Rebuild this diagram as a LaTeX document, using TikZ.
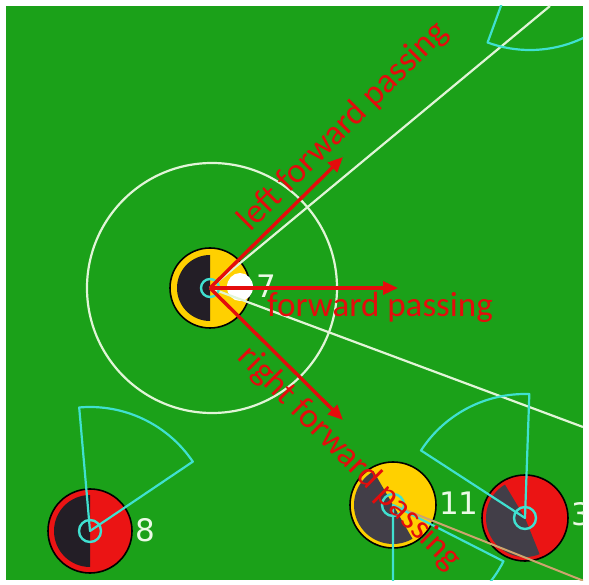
\documentclass[tikz,border=0pt]{standalone}
\usepackage{fontspec}
\newfontfamily\passfont{Carlito}
\newfontfamily\numfont{DejaVu Sans}
\usetikzlibrary{arrows.meta}
\definecolor{pitch}{RGB}{27,161,25}
\definecolor{chalkwhite}{RGB}{225,245,215}
\definecolor{cone}{RGB}{64,224,208}
\definecolor{passred}{RGB}{228,12,12}
\definecolor{yellowp}{RGB}{255,208,0}
\definecolor{redp}{RGB}{235,20,20}
\definecolor{darkp}{RGB}{35,30,38}
\definecolor{greyp}{RGB}{66,62,72}
\definecolor{numwhite}{RGB}{235,250,230}
\definecolor{tanline}{RGB}{205,165,110}
\tikzset{
  ring/.style={draw=black, line width=1.6pt},
  chalk/.style={draw=chalkwhite, line width=2.2pt},
  view/.style={draw=cone, line width=2.2pt, line join=round},
  eye/.style={draw=cone, line width=2.4pt},
  pass/.style={draw=passred, line width=3.4pt, -{Triangle[length=15pt, width=13pt]}},
  lbl/.style={font=\passfont\fontsize{35}{40}\selectfont, text=passred, inner sep=0pt},
  num/.style={font=\numfont\fontsize{31}{36}\selectfont, text=numwhite, inner sep=0pt},
}

\begin{document}
\begin{tikzpicture}[x=1pt, y=1pt]

\useasboundingbox (0,0) rectangle (589,584);
\fill[white] (0,0) rectangle (589,584);

% ── Spielfeld ───────────────────────────────────────────────
\fill[pitch] (6,4) rectangle (583,578);

\coordinate (p7) at (210,296);
\coordinate (p8) at (90,53);
\coordinate (p11) at (393,79);
\coordinate (p3) at (525,66);
\coordinate (ptop) at (530,658);

\begin{scope}
\clip (6,4) rectangle (583,578);

\draw[chalk] (212,296) circle (125);

% ── Spieler ─────────────────────────────────────────────────
\fill[yellowp] (p7) circle (40);
\fill[darkp] (p7) ++(90:33) arc[start angle=90, end angle=270, radius=33] -- cycle;
\draw[ring] (p7) circle (40);
\fill[white] (240,297) ellipse (13 and 14);

\fill[redp] (p8) circle (42);
\fill[darkp] (p8) ++(90:36) arc[start angle=90, end angle=270, radius=36] -- cycle;
\draw[ring] (p8) circle (42);

\fill[yellowp] (p11) circle (43);
\fill[greyp] (p11) -- ++(120:39) arc[start angle=120, end angle=300, radius=39] -- cycle;
\draw[ring] (p11) circle (43);

\fill[redp] (p3) circle (43);
\fill[greyp] (p3) -- ++(121:39) arc[start angle=121, end angle=292, radius=39] -- cycle;
\draw[ring] (p3) circle (43);

% ── Linien ──────────────────────────────────────────────────
\coordinate (c1) at (550,578);
\coordinate (c2) at (583,157);
\coordinate (t1) at (589,1);
\draw[chalk] (p7) -- (c1);
\draw[chalk] (p7) -- (c2);
\draw[draw=tanline, line width=2pt] (p11) -- (t1);

% ── Sichtfelder ─────────────────────────────────────────────
\draw[view] (p8) -- ++(34:124) arc[start angle=34, end angle=95, radius=124] -- cycle;
\draw[view] (p11) -- ++(-90:124) arc[start angle=-90, end angle=-27, radius=124] -- cycle;
\draw[view] (p3) -- ++(88:124) arc[start angle=88, end angle=147, radius=124] -- cycle;
\draw[view] (ptop) -- ++(250:124) arc[start angle=250, end angle=330, radius=124] -- cycle;
\foreach \p/\r in {p7/9, p8/11, p11/11, p3/11}
  \draw[eye] (\p) circle (\r);

\node[num] (n7) at (266,298) {7};
\node[num] (n8) at (145,54) {8};
\node[num] (n11) at (459,81) {11};
\node[num] (n3) at (581,70) {3};
\end{scope}

% ── Passrichtungen ──────────────────────────────────────────
\coordinate (lfp) at (343,427);
\coordinate (fp) at (398,296);
\coordinate (rfp) at (343,164);
\draw[pass] (p7) -- (lfp);
\draw[pass] (p7) -- (fp);
\draw[pass] (p7) -- (rfp);

\node[lbl, anchor=base] (tf) at (380,267) {forward passing};
\node[lbl, anchor=base, rotate=45] (tl) at (350,451) {left forward passing};
\node[lbl, anchor=base, rotate=-45] (tr) at (343,119) {right forward passing};

\end{tikzpicture}
\end{document}
